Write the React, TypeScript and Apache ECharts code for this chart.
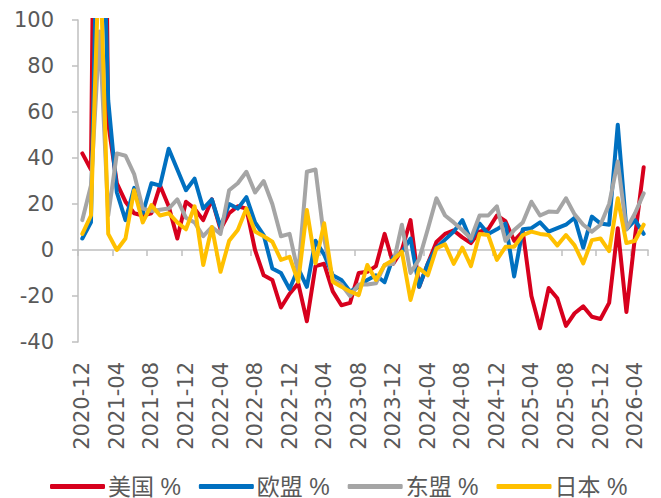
import { useEffect, useRef } from 'react';
import * as echarts from 'echarts';

const categories = [
  '2020-12',
  '2021-01', '2021-02', '2021-03', '2021-04', '2021-05', '2021-06', '2021-07', '2021-08', '2021-09', '2021-10', '2021-11', '2021-12',
  '2022-01', '2022-02', '2022-03', '2022-04', '2022-05', '2022-06', '2022-07', '2022-08', '2022-09', '2022-10', '2022-11', '2022-12',
  '2023-01', '2023-02', '2023-03', '2023-04', '2023-05', '2023-06', '2023-07', '2023-08', '2023-09', '2023-10', '2023-11', '2023-12',
  '2024-01', '2024-02', '2024-03', '2024-04', '2024-05', '2024-06', '2024-07', '2024-08', '2024-09', '2024-10', '2024-11', '2024-12',
  '2025-01', '2025-02', '2025-03', '2025-04', '2025-05', '2025-06', '2025-07', '2025-08', '2025-09', '2025-10', '2025-11', '2025-12',
  '2026-01', '2026-02', '2026-03', '2026-04', '2026-05',
];

const usa = [
  42, 35, 400, 55, 29, 21, 16, 15, 16, 28,
  19, 5, 21, 18, 13, 22, 9, 16, 19, 18,
  0, -11, -13, -25, -19, -14.5, -31, -7, -6, -18,
  -24, -23, -10, -9.5, -7, 7, -6, 0, 13, -16,
  -6, 3.5, 7, 8.5, 5.5, 3, 8, 9, 15, 12.5,
  4, 8, -20, -34, -16.5, -21, -33, -27.5, -24.5, -29,
  -30, -23, 9.5, -27, 6, 36,
];

const eu = [
  5, 12, 200, 65, 25, 13, 27, 16, 29, 28,
  44, 35, 26, 31, 18, 22, 10, 20, 18, 23,
  12, 6.5, -8, -10, -17, -8, -16, 4, -2, -11,
  -13, -18, -16, -13, -11, -14, -3, -1, 5, -16,
  -6, 1, 4.5, 8, 13, 4, 11.5, 7, 9, 11.5,
  -11.5, 9, 9.5, 12, 8, 9.5, 11, 14, 1, 14.5,
  11.5, 11, 54.5, 9, 13, 7,
];

const asean = [
  13, 28, 95, 15, 42, 41, 33, 18, 17, 17.5,
  18, 22, 14, 12, 6, 10, 7, 26, 29, 34,
  25, 30, 20, 6, 7, -10, 34, 35, 5, -13,
  -15, -20, -15, -15, -14.5, -6.5, -6, 11, -10, -4,
  9, 22.5, 15, 12, 8.7, 5, 15, 15, 19, 4,
  8.7, 12, 21, 15, 16.7, 16.5, 22.5, 15.5, 11, 8,
  11, 20, 38.5, 9, 16, 24.6,
];

const japan = [
  7, 15, 135, 7, 0, 5, 26, 12, 19.5, 15,
  16, 12, 9, 19, -6.5, 10, -9.5, 4, 8.7, 18,
  8, 6, 3.6, -4.3, -3, -13.8, 17.4, -5.8, 11.6, -13.8,
  -16, -18, -19.6, -6.5, -13, -6.5, -4.3, -0.7, -21.7, -8,
  -11, 0.7, 2.5, -6, 1, -7, 7, 6.5, -4.3, 1.4,
  1.4, 6.5, 8, 7, 6.5, 2, 6.5, 2, -5.8, 4.3,
  5, -0.5, 22.5, 3, 4, 11,
];

const seriesNames = ['美国 %', '欧盟 %', '东盟 %', '日本 %'];
const seriesData = [usa, eu, asean, japan];
const seriesColors = ['#D7001D', '#0070C0', '#A5A5A5', '#FFC000'];

const yMin = -40;
const yMax = 100;
const yStep = 20;

export default function App() {
  const ref = useRef<HTMLDivElement>(null);

  useEffect(() => {
    if (!ref.current) return;
    const chart = echarts.init(ref.current, null, { renderer: 'svg' });
    const axisColor = '#BFBFBF';
    const labelColor = '#595959';
    const numFont = 'DejaVu Sans';
    chart.setOption({
      animation: false,
      backgroundColor: '#ffffff',
      grid: { left: 78, right: 13, top: 20, bottom: 156, containLabel: false },
      legend: {
        data: seriesNames,
        left: 45,
        top: 470,
        icon: 'roundRect',
        itemWidth: 55,
        itemHeight: 5,
        itemGap: 18,
        textStyle: {
          fontSize: 23,
          color: labelColor,
          fontFamily: "'Liberation Sans', 'Noto Sans CJK SC', sans-serif",
          padding: [0, 0, 0, -2],
        },
      },
      xAxis: [
        {
          type: 'category',
          data: categories,
          boundaryGap: true,
          axisLine: { show: true, onZero: true, lineStyle: { color: axisColor, width: 1.5 } },
          axisTick: { show: true, interval: 3, length: 6, lineStyle: { color: axisColor, width: 1.5 } },
          axisLabel: { show: false },
          splitLine: { show: false },
        },
        {
          type: 'category',
          data: categories,
          boundaryGap: true,
          position: 'bottom',
          axisLine: { show: false, onZero: false },
          axisTick: { show: false },
          splitLine: { show: false },
          axisLabel: {
            interval: 3,
            rotate: 90,
            margin: 20,
            fontSize: 21,
            color: labelColor,
            fontFamily: numFont,
          },
        },
      ],
      yAxis: {
        type: 'value',
        min: yMin,
        max: yMax,
        interval: yStep,
        axisLine: { show: true, lineStyle: { color: axisColor, width: 1.5 } },
        axisTick: { show: true, length: 6, lineStyle: { color: axisColor, width: 1.5 } },
        splitLine: { show: false },
        axisLabel: { margin: 24, fontSize: 21, color: labelColor, fontFamily: numFont },
      },
      series: seriesNames.map((name, i) => ({
        name,
        type: 'line',
        data: seriesData[i],
        xAxisIndex: 0,
        symbol: 'none',
        clip: true,
        color: seriesColors[i],
        itemStyle: { color: seriesColors[i] },
        lineStyle: { color: seriesColors[i], width: 4, join: 'round', cap: 'round' },
        emphasis: { disabled: true },
      })),
    });
    return () => chart.dispose();
  }, []);

  return (
    <div
      ref={ref}
      style={{ position: 'fixed', left: 0, top: 0, width: 661, height: 498, background: '#fff' }}
    />
  );
}
